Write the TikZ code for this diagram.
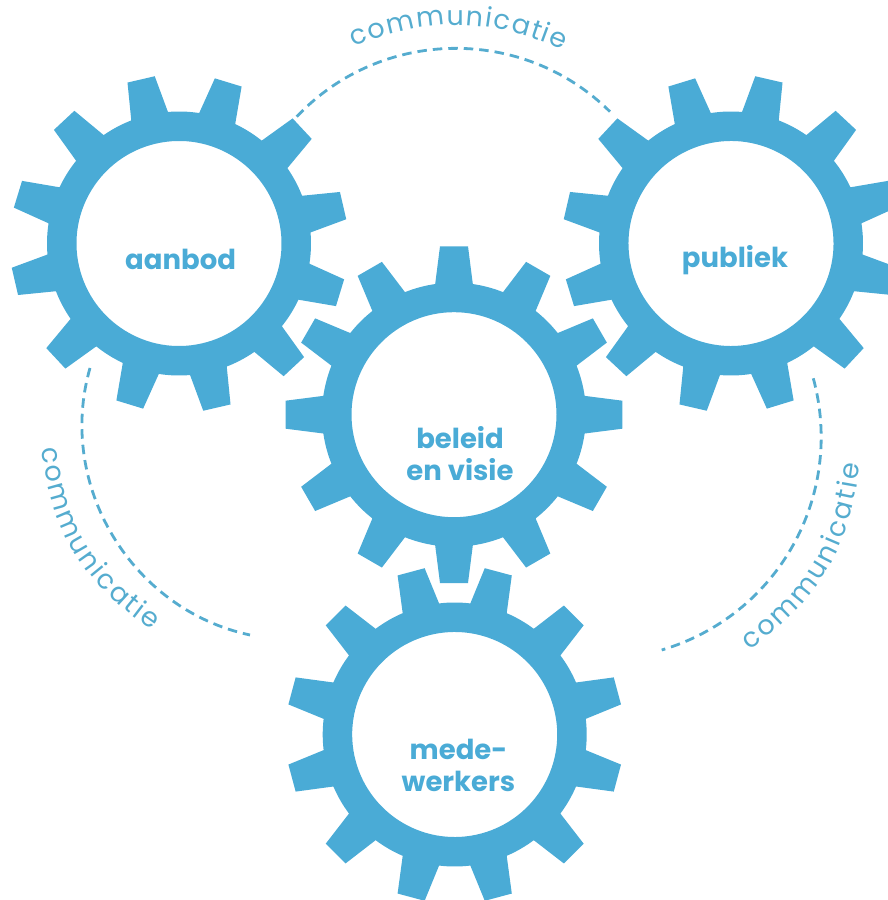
\documentclass[tikz,border=0pt]{standalone}
\usepackage{fontspec}
\usetikzlibrary{decorations.text}
\newfontfamily\gearfont{Poppins}
\definecolor{gearblue}{HTML}{4AABD6}
\definecolor{linkblue}{HTML}{55ACCF}
\tikzset{
  gear/.style={fill=gearblue, even odd rule},
  gearlabel/.style={text=gearblue, align=center, inner sep=0pt, font=\gearfont\bfseries\fontsize{27.5}{32}\selectfont},
  link/.style={draw=linkblue, line width=2.8pt, dash pattern=on 9.5pt off 6pt},
}
\newcommand{\commtext}{\color{linkblue}\fontsize{27}{27}\gearfont}
\begin{document}
\begin{tikzpicture}[x=1pt, y=1pt]
\useasboundingbox (0, 0) rectangle (888, 900);
% gears: centre x / centre y / rotation of the teeth
\foreach \cx/\cy/\off in {179/656.5/13, 731/656.5/17, 454/485.3/0, 454.7/165.5/15} {
  \fill[gear, shift={(\cx, \cy)}, rotate=\off] (0, 0) circle[radius=102.5] (-8.2:132)
    \foreach \t in {0, 30, ..., 330} {
      -- (\t-8.2:132) -- (\t-4.75:169) -- (\t+4.75:169) -- (\t+8.2:132)
      arc[start angle=\t+8.2, end angle=\t+21.8, radius=132]
    } -- cycle;
}
\node[gearlabel, anchor=base] (aanbod) at (180.6, 630) {aanbod};
\node[gearlabel, anchor=base] (publiek) at (735, 632.7) {publiek};
\node[gearlabel] (beleid) at (460, 446) {beleid\\en visie};
\node[gearlabel] (mede) at (458.5, 134.5) {mede-\\werkers};
% dashed links
\coordinate (topA) at (296.7, 783.3);
\coordinate (topB) at (610, 788.3);
\coordinate (leftA) at (90, 532);
\coordinate (leftB) at (250, 265);
\coordinate (rightA) at (813.3, 521.7);
\coordinate (rightB) at (661.7, 250);
\draw[link] (topA) to[bend left=45.7] (topB);
\draw[link] (leftA) to[bend right=47] (leftB);
\draw[link] (rightA) to[bend left=44.3] (rightB);
% curved words
\coordinate (wordtopA) at (354, 853);
\coordinate (wordtopB) at (563, 850);
\coordinate (wordleftA) at (42, 452);
\coordinate (wordleftB) at (152, 270);
\coordinate (wordrightA) at (749, 250);
\coordinate (wordrightB) at (860, 436);
\path[decorate, decoration={text along path, text align=fit to path, text={|\commtext|communicatie}}]
  (wordtopA) to[bend left=22.5] (wordtopB);
\path[decorate, decoration={text along path, text align=fit to path, text={|\commtext|communicatie}}]
  (wordleftA) to[bend right=25] (wordleftB);
\path[decorate, decoration={text along path, text align=fit to path, text={|\commtext|communicatie}}]
  (wordrightA) to[bend right=24.2] (wordrightB);
\end{tikzpicture}
\end{document}
